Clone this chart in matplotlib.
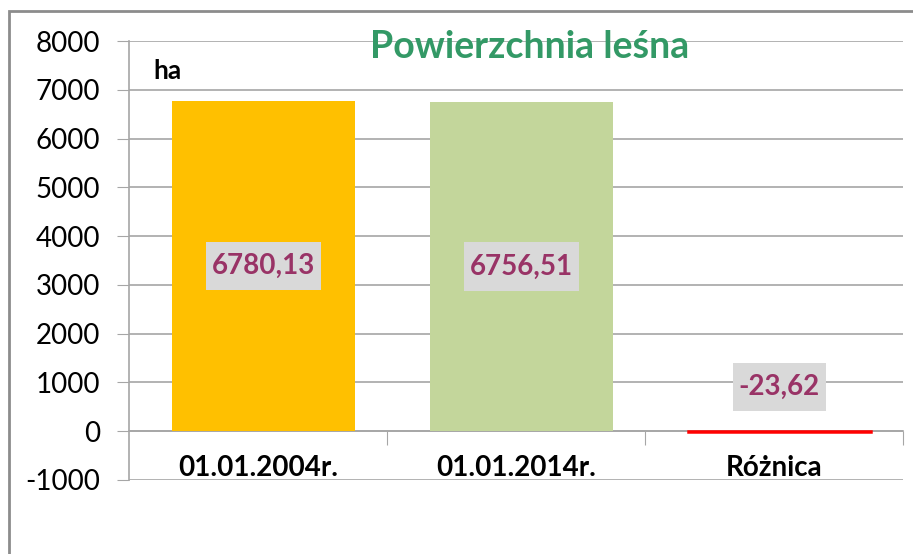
import numpy as np
import matplotlib.pyplot as plt
from matplotlib.patches import Rectangle

# data
categories = ["01.01.2004r.", "01.01.2014r.", "Różnica"]
values = [6780.13, 6756.51, -23.62]
value_labels = ["6780,13", "6756,51", "-23,62"]
bar_colors = ["#FFC000", "#C3D69B", "#FF0000"]
y_ticks = [-1000, 0, 1000, 2000, 3000, 4000, 5000, 6000, 7000, 8000]

plt.rcParams['font.family'] = ['Lato', 'DejaVu Sans']

W, H = 913, 554
fig = plt.figure(figsize=(W / 100, H / 100), dpi=100)
ax = fig.add_axes([129 / W, 1 - 480 / H, (903 - 129) / W, (480 - 41) / H])

grid_c = "#A6A6A6"
x = np.arange(len(categories))
shift = 0.021  # bars sit slightly right of the category centre

ax.bar(x + shift, values, width=0.71, color=bar_colors,
       edgecolor=[c if v < 0 else "none" for c, v in zip(bar_colors, values)],
       linewidth=1.8, zorder=3)

for i, (v, lab) in enumerate(zip(values, value_labels)):
    ypos = v / 2 if v > 1000 else 900
    ax.text(i + shift, ypos, lab, ha="center", va="center", fontsize=20,
            fontweight="bold", color="#993366", zorder=4,
            bbox=dict(boxstyle="square,pad=0.2", fc="#D9D9D9", ec="none",
                      mutation_aspect=2.0))

for i, cat in enumerate(categories):
    ax.text(i, -760, cat, ha="center", va="center", fontsize=20,
            fontweight="bold", color="black", clip_on=False)

ax.set_xlim(-0.5, 2.5)
ax.set_ylim(-1000, 8000)
ax.set_yticks(y_ticks)
ax.set_yticklabels([str(t) for t in y_ticks], fontsize=20)
ax.set_xticks([0.5, 1.5, 2.5])
ax.set_xticklabels([])
ax.tick_params(axis="y", length=9, color=grid_c, pad=12)
ax.tick_params(axis="x", length=10, color=grid_c, direction="out")
ax.yaxis.grid(True, color=grid_c, linewidth=1.2, zorder=0)
ax.set_axisbelow(True)

for s in ["top", "right"]:
    ax.spines[s].set_visible(False)
ax.spines["bottom"].set_position(("data", 0))
for s in ["left", "bottom"]:
    ax.spines[s].set_color(grid_c)
    ax.spines[s].set_linewidth(1.2)

# outer chart frame
fig.patches.append(Rectangle((9 / W, -0.05), 1.1, 1.05 - 11 / H,
                             transform=fig.transFigure, fill=False,
                             ec="#8C8C8C", lw=2))

fig.text(530 / W, 1 - 47 / H, "Powierzchnia leśna", ha="center", va="center",
         fontsize=27, fontweight="bold", color="#339966")
fig.text(153 / W, 1 - 71 / H, "ha", ha="left", va="center",
         fontsize=19, fontweight="bold", color="black")

fig.savefig("out.png", dpi=100)
